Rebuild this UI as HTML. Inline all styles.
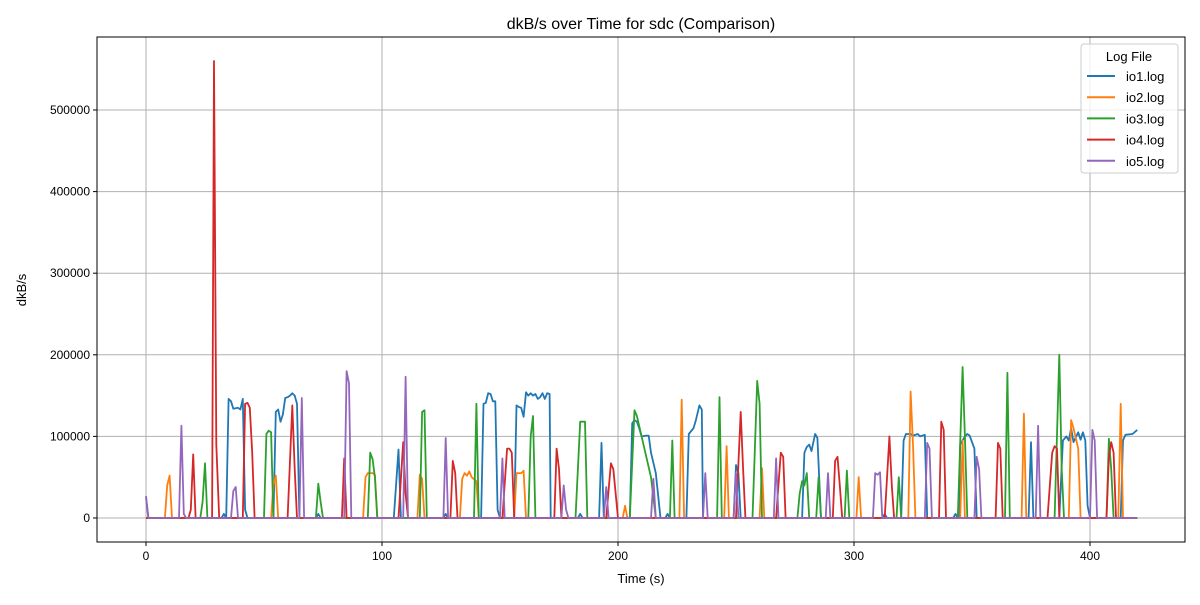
<!DOCTYPE html>
<html><head><meta charset="utf-8"><style>
body{margin:0;background:#fff;font-family:"Liberation Sans","DejaVu Sans",sans-serif}
svg text{font-family:"Liberation Sans","DejaVu Sans",sans-serif}
</style></head><body>
<svg id="chart" width="1200" height="600" xmlns="http://www.w3.org/2000/svg">
<rect width="1200" height="600" fill="#fff"/>
<text x="641" y="29" font-size="16" text-anchor="middle">dkB/s over Time for sdc (Comparison)</text>
<g id="grid"></g>
<g id="series" clip-path="url(#clip)"></g>
<defs><clipPath id="clip"><rect x="97" y="37" width="1088" height="505"/></clipPath></defs>
<rect x="97" y="37" width="1088" height="505" fill="none" stroke="#000" stroke-width="1"/>
<g id="ticks"></g>
<text x="641" y="583" font-size="13" text-anchor="middle">Time (s)</text>
<text x="26" y="290" font-size="13" text-anchor="middle" transform="rotate(-90 26 290)">dkB/s</text>
<g id="legend"></g>
</svg>
<script>
const seriesNames = ["io1.log","io2.log","io3.log","io4.log","io5.log"];
const seriesColors = ["#1f77b4","#ff7f0e","#2ca02c","#d62728","#9467bd"];
const xTicks = [0,100,200,300,400];
const yTicks = [0,100000,200000,300000,400000,500000];
// values in thousands of dkB/s, [time, value]
const io1 = [[0,25],[1,0],[32,0],[33,5],[34,0],[35,146],[36,143],[37,134],[39,135],[40,133],[41,146],[42,10],[43,0],[54,0],[55,130],[56,133],[57,118],[58,127],[59,147],[60,148],[61,150],[62,153],[63,150],[64,140],[65,0],[72,0],[73,5],[74,0],[105,0],[107,84],[108,0],[126,0],[127,5],[128,0],[142,0],[143,140],[144,141],[145,153],[146,152],[147,143],[148,143],[149,10],[150,0],[156,0],[157,138],[158,136],[159,135],[160,124],[161,154],[162,150],[163,153],[164,150],[165,152],[166,146],[167,148],[168,153],[169,146],[170,153],[171,152],[171.5,0],[183,0],[184,5],[185,0],[192,0],[193,92],[194,0],[205,0],[206,116],[207,120],[208,118],[209,110],[210,100],[212,101],[213,101],[214,80],[216,55],[218,0],[220,0],[221,5],[222,0],[229,0],[230,103],[232,110],[233,120],[234.5,138],[235.5,133],[236,0],[249,0],[250,65],[251,55],[252,0],[278,0],[279,80],[280,87],[281,90],[282,82],[283.5,103],[284.5,98],[286,0],[312,0],[313,5],[314,0],[320,0],[321,95],[322,103],[324,103],[325,101],[327,103],[328,100],[330,102],[331,0],[342,0],[343,5],[344,0],[344.5,0],[345,90],[347,100],[348,103],[349,101],[351,85],[352,0],[374,0],[375,93],[376,0],[387,0],[388.5,95],[390,100],[391,95],[392,110],[393,93],[395,105],[396,96],[397,105],[398,95],[399,15],[400,0],[413,0],[414,95],[415,102],[418,103],[420,108]];
const io2 = [[0,0],[8,0],[9,40],[10,52],[11,0],[53,0],[54,40],[55,52],[56,0],[92,0],[93,50],[94,55],[96,55],[97,53],[98,0],[115,0],[116,53],[117,48],[118,0],[133,0],[134,48],[135,55],[136,52],[137,57],[138,50],[140,45],[141,0],[156,0],[157,55],[159,55],[160,58],[161,0],[202,0],[203,15],[204,0],[226,0],[227,145],[228,0],[245,0],[246,88],[247,0],[260,0],[261,61],[262,0],[301,0],[302,50],[303,0],[323,0],[324,155],[325,90],[326,0],[345,0],[346,95],[347,0],[371,0],[372,128],[373,0],[391,0],[392,120],[393,110],[395,85],[396,0],[412,0],[413,140],[414,0],[420,0]];
const io3 = [[0,0],[23,0],[24,20],[25,67],[26,0],[50,0],[51,103],[52,107],[53,105],[54,0],[72,0],[73,42],[74,20],[75,0],[94,0],[95,80],[96,72],[97,50],[98,0],[116,0],[117,130],[118,132],[119,0],[139,0],[140,140],[141,0],[162,0],[163,100],[164,125],[165,0],[182,0],[184,118],[186,118],[187,0],[205,0],[207,132],[208,125],[210,100],[214,50],[216,0],[222,0],[223,95],[224,0],[242,0],[243,148],[244,0],[257,0],[259,168],[260,140],[261,0],[276,0],[277,30],[278,45],[279,40],[280,55],[281,0],[284,0],[285,50],[286,0],[296,0],[297,58],[298,0],[318,0],[319,50],[320,0],[344,0],[346,185],[347,100],[348,0],[364,0],[365,178],[366,0],[385,0],[387,200],[388,60],[389,0],[407,0],[408,97],[409,60],[410,0],[420,0]];
const io4 = [[0,0],[18,0],[19,10],[20,78],[21,0],[28,0],[28.8,560],[29.8,90],[31,0],[41,0],[42,140],[43,141],[44,135],[45,80],[46,0],[60,0],[62,138],[63,60],[64,0],[83,0],[84,73],[85,0],[107,0],[109,93],[110,30],[111,0],[129,0],[130,70],[131,55],[132,0],[151,0],[153,85],[154,85],[155,80],[156,0],[173,0],[174,85],[175,60],[176,0],[195,0],[197,67],[198,60],[200,0],[250,0],[252,130],[253,60],[254,0],[267,0],[269,80],[270,75],[271,0],[291,0],[292,70],[293,75],[294,40],[295,0],[313,0],[315,100],[316,40],[317,0],[336,0],[337,118],[338,108],[339,0],[360,0],[361,92],[362,85],[363,0],[382,0],[384,80],[385,88],[386,85],[387,0],[407,0],[408,75],[409,93],[410,80],[411,0],[420,0]];
const io5 = [[0,27],[1,0],[14,0],[15,113],[16,5],[17,0],[36,0],[37,33],[38,38],[39,0],[65,0],[66,147],[67,0],[84,0],[85,180],[86,165],[87,0],[109,0],[110,173],[111,0],[126,0],[127,98],[128,0],[150,0],[151,73],[152,0],[176,0],[177,40],[178,10],[179,0],[194,0],[195,38],[196,0],[214,0],[215,48],[216,0],[236,0],[237,55],[238,0],[249,0],[250,55],[251,0],[266,0],[267,73],[268,0],[288,0],[289,55],[290,0],[308,0],[309,55],[310,53],[311,56],[312,0],[330,0],[331,92],[332,85],[333,0],[351,0],[352,75],[353,60],[354,0],[377,0],[378,113],[379,0],[400,0],[401,108],[402,95],[403,0],[420,0]];
const allSeries = [io1,io2,io3,io4,io5];

const NS="http://www.w3.org/2000/svg";
const X0=97,X1=1185,Y0=37,Y1=542;
function xs(t){return 146+t*2.36;}
function ys(v){return 518-v*0.000816;}
function mk(tag,attrs,parent){const e=document.createElementNS(NS,tag);for(const k in attrs)e.setAttribute(k,attrs[k]);parent.appendChild(e);return e;}
const grid=document.getElementById('grid'),ticks=document.getElementById('ticks');
xTicks.forEach(t=>{
  const x=xs(t);
  const g=mk('line',{x1:x,x2:x,y1:Y0,y2:Y1,stroke:'#b0b0b0','stroke-width':1},grid);
  
  
  mk('line',{x1:x,x2:x,y1:Y1,y2:Y1+4,stroke:'#000'},ticks);
  const l=mk('text',{x:x,y:Y1+18,'font-size':12,'text-anchor':'middle'},ticks);
  l.textContent=t;
  
  
});
yTicks.forEach(v=>{
  const y=ys(v);
  const g=mk('line',{x1:X0,x2:X1,y1:y,y2:y,stroke:'#b0b0b0','stroke-width':1},grid);
  
  
  mk('line',{x1:X0-4,x2:X0,y1:y,y2:y,stroke:'#000'},ticks);
  const l=mk('text',{x:X0-7,y:y+4,'font-size':12,'text-anchor':'end'},ticks);
  l.textContent=v;
  
  
});
const sg=document.getElementById('series');
allSeries.forEach((s,i)=>{
  const d=s.map((p,j)=>(j?'L':'M')+xs(p[0]).toFixed(1)+','+ys(p[1]*1000).toFixed(1)).join('');
  const p=mk('path',{d:d,fill:'none',stroke:seriesColors[i],'stroke-width':1.8,'stroke-linejoin':'round'},sg);
  
  
});
const lg=document.getElementById('legend');
mk('rect',{x:1081,y:44,width:97,height:129,rx:3,fill:'#fff','fill-opacity':0.8,stroke:'#ccc'},lg);
const lt=mk('text',{x:1129,y:61,'font-size':13,'text-anchor':'middle'},lg);
lt.textContent='Log File';


seriesNames.forEach((n,i)=>{
  const y=76+i*21.2;
  const g=mk('g',{},lg);
  
  
  mk('line',{x1:1087,x2:1115,y1:y,y2:y,stroke:seriesColors[i],'stroke-width':2},g);
  const t=mk('text',{x:1126,y:y+5,'font-size':13},g);
  t.textContent=n;
});
</script>
</body></html>
